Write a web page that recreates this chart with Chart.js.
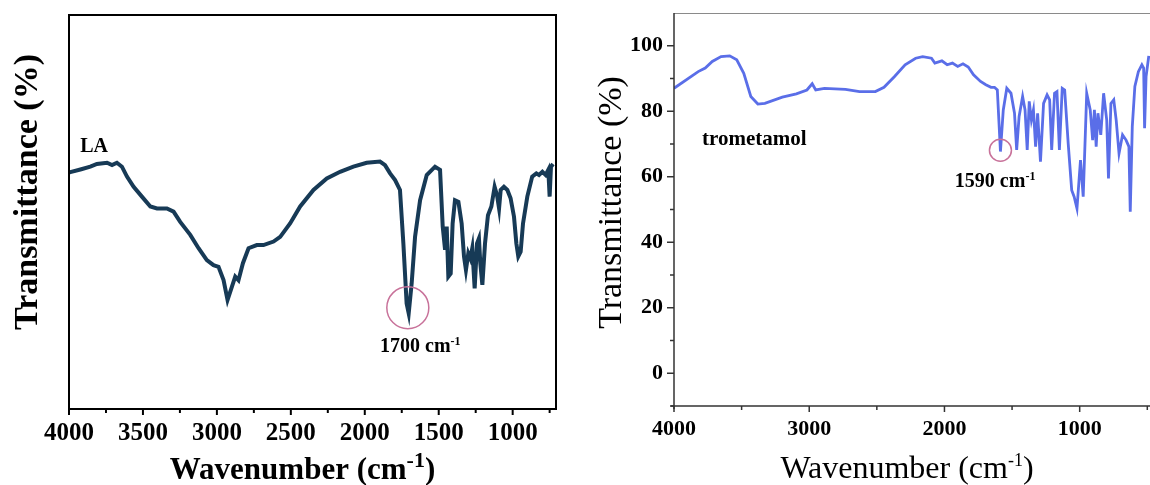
<!DOCTYPE html>
<html>
<head>
<meta charset="utf-8">
<script src="https://cdn.jsdelivr.net/npm/chart.js@4.4.1/dist/chart.umd.min.js"></script>
<style>
    html, body { margin: 0; padding: 0; background: #fff; }
    #wrap { position: relative; width: 1150px; height: 485px; overflow: hidden; }
    canvas { position: absolute; top: 0; }
    #laChart { left: 0; }
    #tromChart { left: 580px; }
</style>
</head>
<body>
<div id="wrap">
    <canvas id="laChart" width="580" height="485"></canvas>
    <canvas id="tromChart" width="570" height="485"></canvas>
</div>
<script>
// LA spectrum (left) - no y scale in the original, values are relative
const laWavenumber = [4000, 3991, 3923, 3856, 3811, 3743, 3709, 3676, 3642, 3608, 3563, 3507, 3450, 3405, 3338, 3293, 3248, 3180, 3124, 3068,
    3023, 2989, 2955, 2928, 2906, 2876, 2854, 2824, 2786, 2730, 2685, 2617, 2572, 2505, 2437, 2347, 2257, 2167, 2077, 1987,
    1897, 1863, 1829, 1795, 1762, 1739, 1717, 1703, 1683, 1660, 1626, 1581, 1525, 1491, 1473, 1457, 1446, 1435, 1419, 1406,
    1390, 1367, 1345, 1329, 1316, 1300, 1286, 1273, 1257, 1241, 1228, 1219, 1205, 1187, 1167, 1144, 1122, 1106, 1092, 1081,
    1059, 1036, 1014, 991, 975, 962, 946, 930, 901, 868, 840, 822, 799, 777, 759, 750, 741, 727]
const laSignal = [60.0, 60.1, 60.8, 61.5, 62.2, 62.5, 61.9, 62.5, 61.5, 59.0, 56.4, 53.9, 51.4, 50.9, 50.9, 50.1, 47.5, 44.2, 40.8, 37.8,
    36.5, 36.1, 32.7, 27.7, 30.2, 33.6, 32.7, 37.0, 40.8, 41.6, 41.6, 42.5, 43.7, 47.1, 51.4, 55.6, 58.5, 60.2, 61.5, 62.5,
    62.8, 61.9, 59.8, 58.1, 55.6, 42.0, 26.8, 24.3, 31.9, 43.7, 53.0, 59.4, 61.5, 60.7, 46.3, 40.4, 46.3, 33.6, 34.4, 47.1,
    53.0, 52.6, 47.1, 38.7, 35.3, 39.5, 38.2, 40.8, 30.6, 42.0, 43.3, 37.0, 31.5, 42.0, 49.2, 51.4, 56.4, 54.3, 50.9, 55.6,
    56.4, 55.6, 53.5, 48.8, 42.0, 38.7, 39.9, 47.1, 53.9, 59.0, 59.8, 59.4, 60.2, 59.4, 60.7, 53.9, 61.5, 62.2]
const laTickLabels = [4000, 3500, 3000, 2500, 2000, 1500, 1000]

// trometamol spectrum (right)
const tromWavenumber = [4000, 3821, 3769, 3717, 3652, 3588, 3536, 3484, 3432, 3380, 3328, 3199, 3095, 3017, 2978, 2952, 2887, 2732, 2628, 2511,
    2447, 2369, 2291, 2213, 2161, 2096, 2071, 2019, 1980, 1941, 1902, 1863, 1824, 1785, 1733, 1694, 1656, 1630, 1609, 1586,
    1565, 1539, 1508, 1482, 1466, 1448, 1422, 1404, 1388, 1373, 1357, 1342, 1326, 1311, 1290, 1267, 1241, 1222, 1207, 1186,
    1168, 1150, 1129, 1111, 1085, 1059, 1041, 1020, 994, 974, 948, 922, 904, 891, 878, 865, 844, 823, 800, 787,
    769, 748, 730, 709, 683, 657, 636, 626, 611, 592, 566, 540, 527, 520, 509, 489]
const tromTransmittance = [87.0, 92.1, 93.2, 95.2, 96.7, 96.9, 95.7, 91.6, 84.5, 82.2, 82.4, 84.3, 85.3, 86.5, 88.4, 86.5, 87.0, 86.7, 86.0, 86.0,
    87.3, 90.6, 94.2, 96.2, 96.7, 96.2, 94.7, 95.4, 94.2, 94.7, 93.7, 94.5, 93.5, 91.1, 89.1, 88.1, 87.3, 87.3, 86.5, 67.7,
    80.4, 87.0, 85.5, 79.4, 68.2, 78.4, 84.5, 80.4, 68.2, 83.0, 77.3, 80.4, 69.2, 79.4, 64.6, 82.4, 85.0, 83.5, 68.2, 85.5,
    86.0, 68.2, 87.0, 86.5, 70.2, 55.9, 53.9, 50.3, 65.1, 53.9, 85.5, 80.4, 71.2, 80.4, 69.2, 79.4, 72.8, 85.5, 77.3, 59.5,
    82.4, 83.5, 77.3, 67.1, 72.8, 71.2, 69.2, 49.3, 75.3, 87.6, 92.1, 94.2, 93.2, 74.8, 90.6, 96.9]
const tromXTickLabels = [4000, 3000, 2000, 1000]
const tromYTickLabels = [0, 20, 40, 60, 80, 100]

const SERIF = "'Liberation Serif', 'Times New Roman', serif"

function toPoints(xs, ys) {
    return xs.map((x, i) => ({ x: x, y: ys[i] }))
}

// text with a superscript part, e.g. "cm" + "-1"
function drawSupText(ctx, base, sup, tail, x, y, o) {
    ctx.textBaseline = "alphabetic"
    ctx.textAlign = "left"
    ctx.font = o.font
    const w1 = ctx.measureText(base).width
    const w3 = ctx.measureText(tail).width
    ctx.font = o.supFont
    const w2 = ctx.measureText(sup).width
    let x0 = o.center ? x - (w1 + w2 + w3) / 2 : x
    ctx.font = o.font
    ctx.fillText(base, x0, y)
    ctx.font = o.supFont
    ctx.fillText(sup, x0 + w1, y - o.rise)
    ctx.font = o.font
    if (tail) ctx.fillText(tail, x0 + w1 + w2, y)
}

function drawVertical(ctx, text, x, y, font) {
    ctx.save()
    ctx.translate(x, y)
    ctx.rotate(-Math.PI / 2)
    ctx.font = font
    ctx.textAlign = "center"
    ctx.textBaseline = "middle"
    ctx.fillText(text, 0, 0)
    ctx.restore()
}

function drawCircle(ctx, cx, cy, r) {
    ctx.beginPath()
    ctx.arc(cx, cy, r, 0, Math.PI * 2)
    ctx.strokeStyle = "#c8729a"
    ctx.lineWidth = 1.5
    ctx.stroke()
}

const laDecor = {
    id: "laDecor",
    afterDraw(chart) {
        const { ctx, chartArea: a, scales: { x, y } } = chart
        ctx.save()
        ctx.strokeStyle = "#000"
        ctx.lineWidth = 2
        ctx.strokeRect(a.left, a.top, a.right - a.left, a.bottom - a.top)
        for (let v = 4000; v >= x.min; v -= 250) {
            const px = x.getPixelForValue(v)
            const len = v % 500 === 0 ? 6 : 4
            ctx.beginPath()
            ctx.moveTo(px, a.bottom)
            ctx.lineTo(px, a.bottom + len)
            ctx.stroke()
        }
        ctx.fillStyle = "#000"
        drawVertical(ctx, "Transmittance (%)", a.left - 41, (a.top + a.bottom) / 2 - 20, "bold 34px " + SERIF)
        drawSupText(ctx, "Wavenumber (cm", "-1", ")", (a.left + a.right) / 2 - 10, 479,
            { font: "bold 31px " + SERIF, supFont: "bold 22px " + SERIF, rise: 12, center: true })

        ctx.font = "bold 20px " + SERIF
        ctx.textAlign = "left"
        ctx.textBaseline = "alphabetic"
        ctx.fillText("LA", x.getPixelForValue(3924), y.getPixelForValue(65.2))
        drawCircle(ctx, x.getPixelForValue(1709), y.getPixelForValue(25.7), 21)
        ctx.fillStyle = "#000"
        drawSupText(ctx, "1700 cm", "-1", "", x.getPixelForValue(1897), y.getPixelForValue(14.5),
            { font: "bold 20px " + SERIF, supFont: "bold 12px " + SERIF, rise: 7 })
        ctx.restore()
    }
}

const tromDecor = {
    id: "tromDecor",
    afterDraw(chart) {
        const { ctx, chartArea: a, scales: { x, y } } = chart
        ctx.save()
        // top frame line
        ctx.strokeStyle = "#8a8a8a"
        ctx.lineWidth = 1
        ctx.beginPath()
        ctx.moveTo(a.left, a.top + 0.5)
        ctx.lineTo(a.right, a.top + 0.5)
        ctx.stroke()

        ctx.strokeStyle = "#333"
        ctx.lineWidth = 1.5
        ctx.beginPath()
        ctx.moveTo(a.left, a.top)
        ctx.lineTo(a.left, a.bottom + 3)
        ctx.moveTo(a.left - 3, a.bottom)
        ctx.lineTo(a.right, a.bottom)
        ctx.stroke()
        for (let v = 4000; v >= x.min; v -= 500) {
            const px = x.getPixelForValue(v)
            const len = v % 1000 === 0 ? 6 : 4
            ctx.beginPath()
            ctx.moveTo(px, a.bottom)
            ctx.lineTo(px, a.bottom + len)
            ctx.stroke()
        }
        for (let v = -10; v <= 100; v += 10) {
            const py = y.getPixelForValue(v)
            const len = v % 20 === 0 ? 7 : 4
            ctx.beginPath()
            ctx.moveTo(a.left, py)
            ctx.lineTo(a.left - len, py)
            ctx.stroke()
        }

        ctx.fillStyle = "#000"
        drawVertical(ctx, "Transmittance (%)", a.left - 62, (a.top + a.bottom) / 2 - 7, "34px " + SERIF)
        drawSupText(ctx, "Wavenumber (cm", "-1", ")", (a.left + a.right) / 2 - 5, 478,
            { font: "32px " + SERIF, supFont: "18px " + SERIF, rise: 12, center: true })

        ctx.font = "bold 21px " + SERIF
        ctx.textAlign = "left"
        ctx.textBaseline = "alphabetic"
        ctx.fillText("trometamol", x.getPixelForValue(3793), y.getPixelForValue(69.6))
        drawCircle(ctx, x.getPixelForValue(1586), y.getPixelForValue(68.1), 11)
        ctx.fillStyle = "#000"
        drawSupText(ctx, "1590 cm", "-1", "", x.getPixelForValue(1923), y.getPixelForValue(56.8),
            { font: "bold 20px " + SERIF, supFont: "bold 12px " + SERIF, rise: 7 })
        ctx.restore()
    }
}

function drawLaChart() {
    new Chart(document.getElementById("laChart"), {
        type: "line",
        data: {
            datasets: [{
                data: toPoints(laWavenumber, laSignal),
                borderColor: "#173a56",
                borderWidth: 4,
                pointRadius: 0,
                tension: 0
            }]
        },
        options: {
            responsive: false,
            animation: false,
            layout: { padding: { top: 15, right: 24, left: 0, bottom: 0 } },
            plugins: { legend: { display: false }, tooltip: { enabled: false } },
            scales: {
                x: {
                    type: "linear",
                    reverse: true,
                    min: 707,
                    max: 4000,
                    afterBuildTicks: (axis) => { axis.ticks = laTickLabels.map(v => ({ value: v })) },
                    afterFit: (scale) => { scale.height = 76 },
                    grid: { display: false, drawTicks: false },
                    border: { display: false },
                    ticks: {
                        autoSkip: false,
                        maxRotation: 0,
                        padding: 10,
                        color: "#000",
                        font: { family: SERIF, size: 25, weight: "bold" },
                        callback: (v) => String(v)
                    }
                },
                y: {
                    min: 0,
                    max: 100,
                    afterFit: (scale) => { scale.width = 69 },
                    grid: { display: false, drawTicks: false },
                    border: { display: false },
                    ticks: { display: false }
                }
            }
        },
        plugins: [laDecor]
    })
}

function drawTromChart() {
    new Chart(document.getElementById("tromChart"), {
        type: "line",
        data: {
            datasets: [{
                data: toPoints(tromWavenumber, tromTransmittance),
                borderColor: "#5a6ee8",
                borderWidth: 2.8,
                pointRadius: 0,
                tension: 0
            }]
        },
        options: {
            responsive: false,
            animation: false,
            layout: { padding: { top: 13, right: 0, left: 0, bottom: 0 } },
            plugins: { legend: { display: false }, tooltip: { enabled: false } },
            scales: {
                x: {
                    type: "linear",
                    reverse: true,
                    min: 480,
                    max: 4000,
                    afterBuildTicks: (axis) => { axis.ticks = tromXTickLabels.map(v => ({ value: v })) },
                    afterFit: (scale) => {
                        scale.height = 79
                        scale.paddingLeft = 0
                        scale.paddingRight = 0
                    },
                    grid: { display: false, drawTicks: false },
                    border: { display: false },
                    ticks: {
                        autoSkip: false,
                        maxRotation: 0,
                        padding: 10,
                        color: "#000",
                        font: { family: SERIF, size: 22, weight: "bold" },
                        callback: (v) => String(v)
                    }
                },
                y: {
                    min: -10,
                    max: 110,
                    afterBuildTicks: (axis) => { axis.ticks = tromYTickLabels.map(v => ({ value: v })) },
                    afterFit: (scale) => {
                        scale.width = 94
                        scale.paddingTop = 0
                        scale.paddingBottom = 0
                    },
                    grid: { display: false, drawTicks: false },
                    border: { display: false },
                    ticks: {
                        autoSkip: false,
                        padding: 11,
                        color: "#000",
                        font: { family: SERIF, size: 22, weight: "bold" },
                        callback: (v) => String(v)
                    }
                }
            }
        },
        plugins: [tromDecor]
    })
}

drawLaChart()
drawTromChart()
</script>
</body>
</html>
